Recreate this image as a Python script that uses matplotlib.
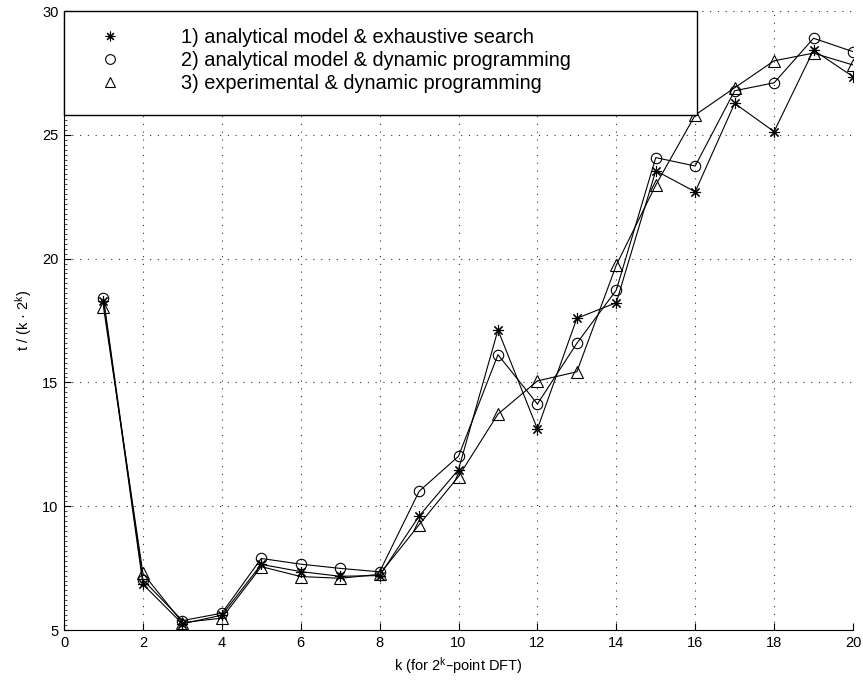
import numpy as np
import matplotlib
matplotlib.use("Agg")
import matplotlib.pyplot as plt
from matplotlib.patches import Rectangle
from matplotlib.ticker import MultipleLocator

plt.rcParams["font.family"] = ["Liberation Sans", "DejaVu Sans"]
plt.rcParams["mathtext.default"] = "regular"

# --- данные: k и нормированное время t / (k * 2^k) ---
k = np.arange(1, 21)

t_exhaustive = [18.3, 6.85, 5.25, 5.6, 7.65, 7.36, 7.17, 7.2, 9.6, 11.48,
                17.12, 13.12, 17.59, 18.22, 23.55, 22.7, 26.27, 25.13, 28.42, 27.35]
t_dp_model = [18.4, 7.03, 5.38, 5.68, 7.89, 7.66, 7.49, 7.35, 10.6, 12.02,
              16.12, 14.13, 16.58, 18.73, 24.08, 23.74, 26.78, 27.1, 28.9, 28.36]
t_dp_exp = [18.05, 7.29, 5.3, 5.48, 7.56, 7.16, 7.09, 7.25, 9.25, 11.2,
            13.72, 15.06, 15.43, 19.74, 22.97, 25.8, 26.9, 27.99, 28.3, 27.82]

labels = ["1) analytical model & exhaustive search",
          "2) analytical model & dynamic programming",
          "3) experimental & dynamic programming"]

# звёздочка как в MATLAB: "+" и "x" вместе
star = (8, 2, 0)

fig = plt.figure(figsize=(8.63, 6.89), dpi=100)
ax = fig.add_axes([0.0742, 0.0856, 0.9142, 0.8984])

ax.plot(k, t_exhaustive, color="black", lw=0.8, marker=star, ms=8, mew=0.8)
ax.plot(k, t_dp_model, color="black", lw=0.8, marker="o", ms=7.5, mew=0.8, mfc="none")
ax.plot(k, t_dp_exp, color="black", lw=0.8, marker="^", ms=8, mew=0.8, mfc="none")

ax.set_xlim(0, 20)
ax.set_ylim(5, 30)
ax.xaxis.set_major_locator(MultipleLocator(2))
ax.yaxis.set_major_locator(MultipleLocator(5))
ax.yaxis.set_minor_locator(MultipleLocator(0.2))

ax.grid(True, which="major", color="0.2", linestyle=(0, (1, 6)), lw=0.8)
ax.spines["top"].set_visible(False)
ax.spines["right"].set_visible(False)
ax.tick_params(axis="both", which="major", direction="in", length=5, width=0.8,
               labelsize=10.5, pad=4)
ax.tick_params(axis="y", which="minor", direction="in", length=2, width=0.5)

ax.set_xlabel("k (for 2$^k$–point DFT)", fontsize=10.5, labelpad=4)
ax.set_ylabel("t / (k · 2$^k$)", fontsize=10.5, labelpad=6)

# --- легенда: рамка отдельно, внутри только маркеры и подписи ---
frame = Rectangle((64 / 863, 1 - 115 / 689), (697 - 64) / 863, (115 - 11) / 689,
                  transform=fig.transFigure, facecolor="white", edgecolor="black",
                  lw=1.0, zorder=5, clip_on=False)
ax.add_patch(frame)

handles = [
    plt.Line2D([], [], color="black", ls="none", marker=star, ms=7, mew=0.8),
    plt.Line2D([], [], color="black", ls="none", marker="o", ms=7, mew=0.8, mfc="none"),
    plt.Line2D([], [], color="black", ls="none", marker="^", ms=7, mew=0.8, mfc="none"),
]
leg = ax.legend(handles, labels, loc="upper left",
                bbox_to_anchor=(90 / 863, 1 - 28 / 689), bbox_transform=fig.transFigure,
                fontsize=14.4, frameon=False, borderpad=0, borderaxespad=0,
                handlelength=2.0, handletextpad=2.55, labelspacing=0.19)
leg.set_zorder(6)

fig.savefig("out.png", dpi=100)
